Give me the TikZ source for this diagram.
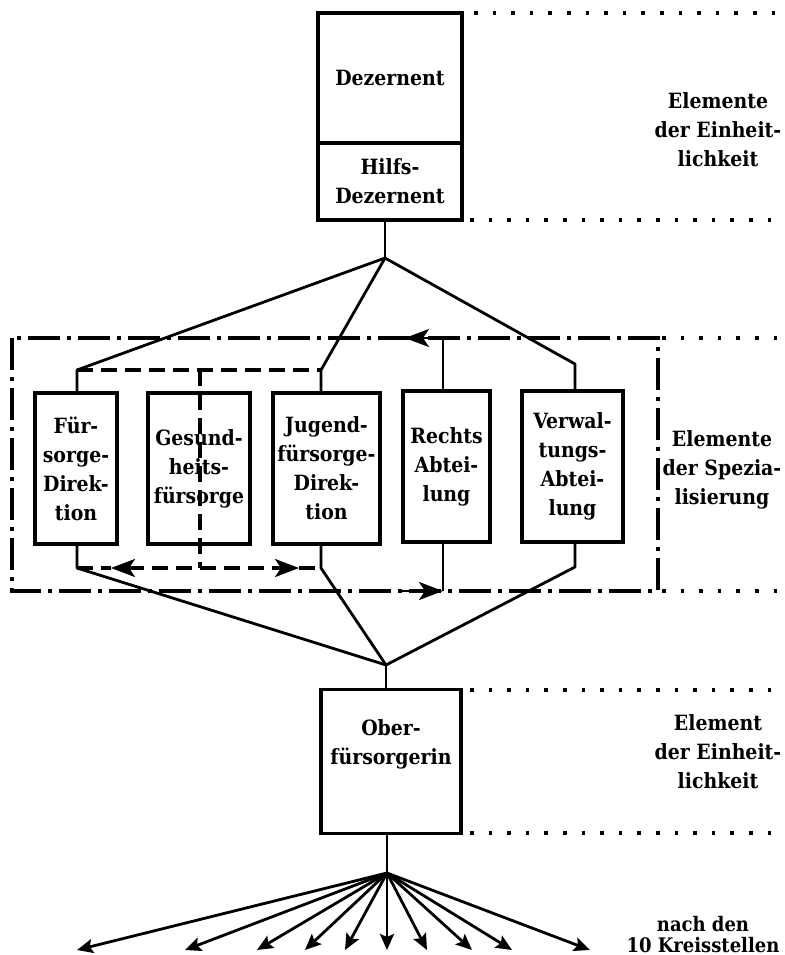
\documentclass[tikz,border=0pt]{standalone}
\usepackage{fontspec}
\setmainfont{DejaVu Serif Condensed}
\usetikzlibrary{arrows.meta}
\begin{document}
\begin{tikzpicture}[x=0.5pt,y=-0.5pt,
  txt/.style={font=\bfseries\fontsize{10.5}{14.5}\selectfont,align=center},
  box/.style={txt,draw,line width=1.8pt,inner sep=0pt},
  conn/.style={line width=1.4pt,line join=round},
  dotline/.style={line width=1.8pt,dash pattern=on 1.8pt off 7.5pt},
  frameline/.style={line width=2pt,dash pattern=on 16pt off 3.5pt on 2pt off 3.5pt},
  dashline/.style={line width=1.6pt,dash pattern=on 8pt off 4pt},
  bigarrow/.style={-{Stealth[length=12pt,width=9pt,inset=3pt]}},
  fanarrow/.style={-{Stealth[length=8pt,width=7pt,inset=1.5pt]}}
]
\useasboundingbox (0,0) rectangle (784,955);

% top boxes
\node[box,minimum width=72pt,minimum height=65pt] (dez) at (390,78) {Dezernent};
\node[box,minimum width=72pt,minimum height=38.5pt] (hilfs) at (390,181.5) {Hilfs-\\Dezernent};

% specialization boxes
\node[box,minimum width=41pt,minimum height=75.5pt] (fd) at (76,468.5) {Für-\\sorge-\\Direk-\\tion};
\node[box,minimum width=51pt,minimum height=75.5pt] (gf) at (199,468.5) {Gesund-\\heits-\\fürsorge};
\node[box,minimum width=53.5pt,minimum height=75.5pt] (jd) at (326.5,468.5) {Jugend-\\fürsorge-\\Direk-\\tion};
\node[box,minimum width=43.5pt,minimum height=75.5pt] (ra) at (446.5,466.5) {Rechts\\Abtei-\\lung};
\node[box,minimum width=50.5pt,minimum height=75.5pt] (va) at (572.5,466.5) {Verwal-\\tungs-\\Abtei-\\lung};

% Oberfuersorgerin
\node[box,minimum width=70pt,minimum height=72pt] (ober) at (391,761.5) {};
\node[txt] (obertxt) at (391,744) {Ober-\\fürsorgerin};

% labels
\node[txt] (l1) at (718,130) {Elemente\\der Einheit-\\lichkeit};
\node[txt] (l2) at (722,470) {Elemente\\der Spezia-\\lisierung};
\node[txt] (l3) at (718,752) {Element\\der Einheit-\\lichkeit};
\node[txt,font=\bfseries\fontsize{10}{10.5}\selectfont] (l4) at (703,935) {nach den\\10 Kreisstellen};

% coordinates
\coordinate (j1) at (385,258);
\coordinate (j2) at (386,665);
\coordinate (j3) at (387,873);
\coordinate (fTop) at (77,370);
\coordinate (jTop) at (321,370);
\coordinate (vTop) at (575,364);
\coordinate (fBot) at (77,568);
\coordinate (jBot) at (321,568);
\coordinate (vBot) at (575,567);
\coordinate (gTop) at (200,370);
\coordinate (gBot) at (200,568);
\coordinate (aL) at (111,568);
\coordinate (aR) at (299,568);
\coordinate (rTop) at (443,338);
\coordinate (rTopTip) at (405,338);
\coordinate (rBot) at (443,591);
\coordinate (rBotStart) at (400,591);

% dotted extension lines
\coordinate (d1a) at (474,13);  \coordinate (d1b) at (784,13);
\coordinate (d2a) at (470,220); \coordinate (d2b) at (784,220);
\coordinate (d3a) at (662,338); \coordinate (d3b) at (784,338);
\coordinate (d4a) at (662,591); \coordinate (d4b) at (784,591);
\coordinate (d5a) at (470,690); \coordinate (d5b) at (784,690);
\coordinate (d6a) at (470,833); \coordinate (d6b) at (784,833);
\foreach \a/\b in {d1a/d1b,d2a/d2b,d3a/d3b,d4a/d4b,d5a/d5b,d6a/d6b}
  \draw[dotline] (\a) -- (\b);

% specialization frame
\coordinate (fr1) at (12,338);
\coordinate (fr2) at (658,591);
\draw[frameline] (fr1) rectangle (fr2);

% top connectors
\draw[conn] (hilfs.south -| j1) -- (j1);
\draw[conn] (j1) -- (fTop) -- (fd.north -| fTop);
\draw[conn] (j1) -- (jTop) -- (jd.north -| jTop);
\draw[conn] (j1) -- (vTop) -- (va.north -| vTop);

% bottom connectors
\draw[conn] (fd.south -| fBot) -- (fBot) -- (j2);
\draw[conn] (jd.south -| jBot) -- (jBot) -- (j2);
\draw[conn] (va.south -| vBot) -- (vBot) -- (j2);
\draw[conn] (j2) -- (ober.north -| j2);

% inner dashed links
\draw[dashline] (fTop) -- (jTop);
\draw[dashline] (gTop) -- (gBot);
\draw[dashline] (fBot) -- (aL);
\draw[dashline] (aR) -- (jBot);
\draw[dashline,{Stealth[length=12pt,width=9pt,inset=3pt]}-{Stealth[length=12pt,width=9pt,inset=3pt]}] (aL) -- (aR);

% Rechts-Abteilung arrows
\draw[conn,bigarrow] (ra.north -| rTop) -- (rTop) -- (rTopTip);
\draw[conn] (ra.south -| rBot) -- (rBot);
\draw[conn,bigarrow] (rBotStart) -- (rBot);

% fan to the 10 Kreisstellen
\draw[conn] (ober.south -| j3) -- (j3);
\foreach \x [count=\i] in {77,185,257,305,345,387,427,472,512,590} {
  \coordinate (k\i) at (\x,950);
  \draw[conn,fanarrow] (j3) -- (k\i);
}
\end{tikzpicture}
\end{document}
